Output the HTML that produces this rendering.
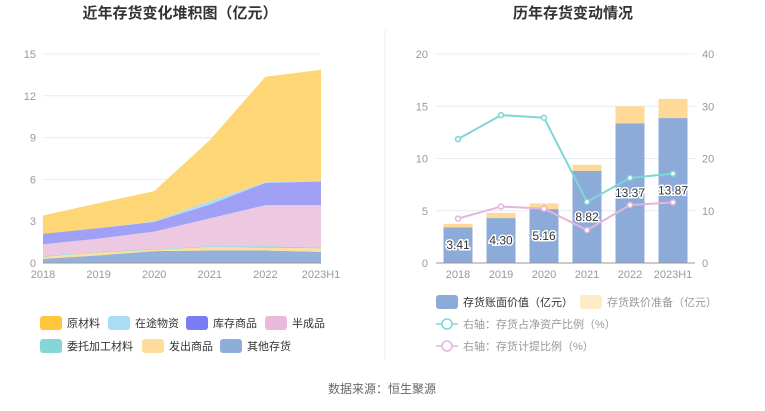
<!DOCTYPE html>
<html><head><meta charset="utf-8"><style>
body{margin:0;background:#fff;font-family:"Liberation Sans","Noto Sans CJK SC",sans-serif;}
svg text{font-family:"Liberation Sans","Noto Sans CJK SC",sans-serif;}
</style></head><body>
<svg id="c" width="765" height="406">
<text x="180" y="18" text-anchor="middle" font-size="15" font-weight="bold" fill="#333">近年存货变化堆积图（亿元）</text>
<text x="573" y="18" text-anchor="middle" font-size="15" font-weight="bold" fill="#333">历年存货变动情况</text>
<line x1="385" y1="30" x2="385" y2="360" stroke="#eee"/>
<g id="L"></g><g id="R"></g>
<text x="382" y="393" text-anchor="middle" font-size="12" fill="#666">数据来源：恒生聚源</text>
</svg>
<script>
const years=['2018','2019','2020','2021','2022','2023H1'];
const other=[0.3,0.55,0.85,0.9,0.9,0.8];
const shipped=[0.15,0.2,0.1,0.25,0.2,0.25];
const consigned=[0.05,0.05,0.05,0.05,0.1,0.05];
const semi=[0.85,0.95,1.25,2.0,2.95,3.05];
const goods=[0.75,0.75,0.7,1.0,1.6,1.7];
const transit=[0.0,0.0,0.05,0.25,0.05,0.05];
const raw=[1.31,1.8,2.16,4.37,7.57,7.97];
const bookValue=[3.41,4.30,5.16,8.82,13.37,13.87];
const provision=[0.34,0.5,0.54,0.58,1.63,1.83];
const ratioNet=[23.7,28.3,27.8,11.7,16.3,17.1];
const ratioProv=[8.5,10.8,10.4,6.3,11.1,11.6];
const leftTicks=[0,3,6,9,12,15];
const rightTicksL=[0,5,10,15,20];
const rightTicksR=[0,10,20,30,40];
const NS='http://www.w3.org/2000/svg';
function mk(p,t,a){const e=document.createElementNS(NS,t);for(const k in a)e.setAttribute(k,a[k]);p.appendChild(e);return e;}
const L=document.getElementById('L'),R=document.getElementById('R');
// left chart
const lx=i=>43+i*(321-43)/5, ly=v=>263-v*(209/15);
leftTicks.forEach(t=>{const g=mk(L,'line',{x1:43,x2:321,y1:ly(t),y2:ly(t),stroke:'#e8ecf4'});

const tx=mk(L,'text',{x:36,y:ly(t)+4,'text-anchor':'end','font-size':11,fill:'#999'});tx.textContent=t;
});
const series=[['其他存货',other,'#8fadd9'],['发出商品',shipped,'#fddc9c'],['委托加工材料',consigned,'#85d6d6'],['半成品',semi,'#ebc6df'],['库存商品',goods,'#9a9bf5'],['在途物资',transit,'#a8ddf5'],['原材料',raw,'#fed46f']];
let base=years.map(()=>0);
series.forEach(([n,arr,c])=>{const top=base.map((b,i)=>b+arr[i]);
let d='M'+top.map((v,i)=>lx(i)+','+ly(v)).join('L');
for(let i=5;i>=0;i--)d+='L'+lx(i)+','+ly(base[i]);
const p=mk(L,'path',{d:d+'Z',fill:c,opacity:0.95});
base=top;});
mk(L,'line',{x1:43,x2:321,y1:263,y2:263,stroke:'#999'});
years.forEach((y,i)=>{const t=mk(L,'text',{x:lx(i),y:278,'text-anchor':'middle','font-size':11,fill:'#999'});t.textContent=y;
});
const leg=[['原材料','#ffc53d',40,323],['在途物资','#a8ddf5',108,323],['库存商品','#7a7cf5',186,323],['半成品','#e8b9d8',265,323],['委托加工材料','#85d6d6',40,346],['发出商品','#fddc9c',142,346],['其他存货','#8fadd9',220,346]];
leg.forEach(([n,c,x,y])=>{const r=mk(L,'rect',{x:x,y:y-7,width:22,height:14,rx:3,fill:c});

const t=mk(L,'text',{x:x+27,y:y+4,'font-size':11,fill:'#333'});t.textContent=n;
});
// right chart
const rx=i=>458+i*43, ry=v=>263-v*(209/20), ry2=v=>263-v*(209/40);
rightTicksL.forEach(t=>{const g=mk(R,'line',{x1:436,x2:695,y1:ry(t),y2:ry(t),stroke:'#e8ecf4'});

const tx=mk(R,'text',{x:428,y:ry(t)+4,'text-anchor':'end','font-size':11,fill:'#999'});tx.textContent=t;
});
rightTicksR.forEach(t=>{const tx=mk(R,'text',{x:702,y:ry2(t)+4,'font-size':11,fill:'#999'});tx.textContent=t;
});
years.forEach((y,i)=>{const x=rx(i)-14.5;
const b=mk(R,'rect',{x:x,y:ry(bookValue[i]),width:29,height:263-ry(bookValue[i]),fill:'#8dabd9'});

const p=mk(R,'rect',{x:x,y:ry(bookValue[i]+provision[i]),width:29,height:ry(bookValue[i])-ry(bookValue[i]+provision[i]),fill:'#fed997'});

const t=mk(R,'text',{x:rx(i),y:year_label_y(i),'text-anchor':'middle','font-size':12,fill:'#333',stroke:'#fff','stroke-width':3,'paint-order':'stroke'});
t.textContent=bookValue[i].toFixed(2);
const xl=mk(R,'text',{x:rx(i),y:278,'text-anchor':'middle','font-size':11,fill:'#999'});xl.textContent=y;
});
function year_label_y(i){return (ry(bookValue[i])+263)/2+4;}
mk(R,'line',{x1:436,x2:695,y1:263,y2:263,stroke:'#999'});
[[ratioNet,'#7fd6d6','line-net-asset-ratio'],[ratioProv,'#e3b5dc','line-provision-ratio']].forEach(([arr,c,n])=>{
const l=mk(R,'polyline',{points:arr.map((v,i)=>rx(i)+','+ry2(v)).join(' '),fill:'none',stroke:c,'stroke-width':2});

arr.forEach((v,i)=>{const p=mk(R,'circle',{cx:rx(i),cy:ry2(v),r:2.5,fill:'#fff',stroke:c,'stroke-width':1.5});
});});
const rl=[['rect','存货账面价值（亿元）','#8dabd9',436,302],['rect','存货跌价准备（亿元）','#feebc8',580,302],['circ','右轴：存货占净资产比例（%）','#7fd6d6',436,324],['circ','右轴：存货计提比例（%）','#e3b5dc',436,346]];
rl.forEach(([k,n,c,x,y])=>{let s;
if(k==='rect'){s=mk(R,'rect',{x:x,y:y-7,width:22,height:14,rx:3,fill:c});}
else{mk(R,'line',{x1:x,x2:x+22,y1:y,y2:y,stroke:c,'stroke-width':1.5});s=mk(R,'circle',{cx:x+11,cy:y,r:5,fill:'#fff',stroke:c,'stroke-width':1.5});}

const t=mk(R,'text',{x:x+27,y:y+4,'font-size':11,fill:k==='rect'&&x===436?'#333':'#999'});t.textContent=n;
});
</script>
</body></html>
